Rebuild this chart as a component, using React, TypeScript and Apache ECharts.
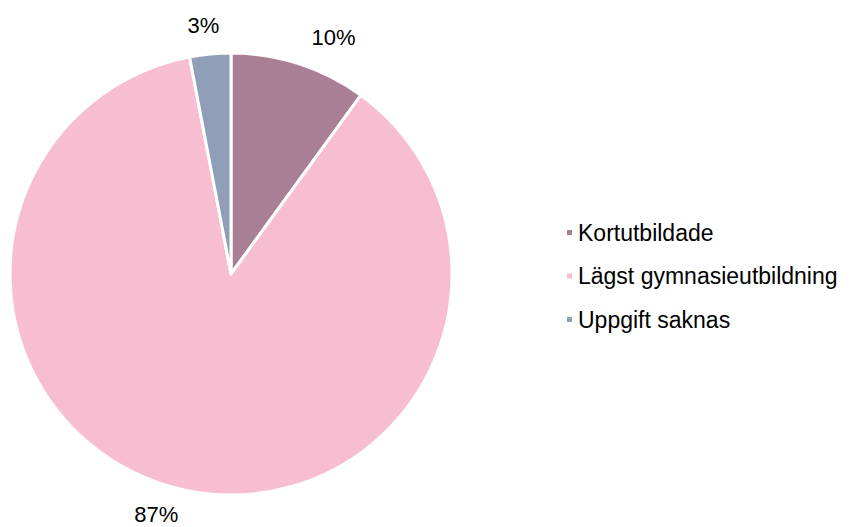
import React, { useEffect, useRef } from "react";
import * as echarts from "echarts";

const categories = ["Kortutbildade", "Lägst gymnasieutbildning", "Uppgift saknas"];
const values = [10, 87, 3];
const colors = ["#a87f95", "#f7bdd1", "#8f9fb8"];

export default function App() {
  const ref = useRef<HTMLDivElement>(null);
  useEffect(() => {
    const chart = echarts.init(ref.current!, null, { renderer: "svg" });
    chart.setOption({
      animation: false,
      backgroundColor: "#ffffff",
      textStyle: { fontFamily: "'Liberation Sans', Arial, sans-serif" },
      legend: {
        orient: "vertical",
        left: 560,
        top: 216,
        itemWidth: 7,
        itemHeight: 7,
        itemGap: 20.5,
        icon: "rect",
        data: categories,
        textStyle: { fontSize: 23, lineHeight: 23, color: "#000", fontFamily: "'Liberation Sans', Arial, sans-serif" },
      },
      series: [
        {
          type: "pie",
          center: [231, 274],
          radius: 221,
          startAngle: 90,
          clockwise: true,
          itemStyle: { borderColor: "#ffffff", borderWidth: 3 },
          label: {
            show: true,
            position: "outside",
            formatter: "{d}%",
            fontSize: 22,
            lineHeight: 22,
            color: "#000",
            fontFamily: "'Liberation Sans', Arial, sans-serif",
          },
          labelLine: { show: false, length: 30, length2: 0 },
          labelLayout: (p: any) => {
            if (p.dataIndex === 2) return { align: "center", dx: 1, dy: 1 };
            if (p.dataIndex === 1) return { dx: 7, dy: -1 };
            return { dx: -2, dy: 2 };
          },
          emphasis: { disabled: true },
          data: categories.map((c, i) => ({ name: c, value: values[i], itemStyle: { color: colors[i] } })),
        },
      ],
    });
    return () => chart.dispose();
  }, []);
  return <div ref={ref} style={{ position: "fixed", left: 0, top: 0, width: 851, height: 527 }} />;
}
